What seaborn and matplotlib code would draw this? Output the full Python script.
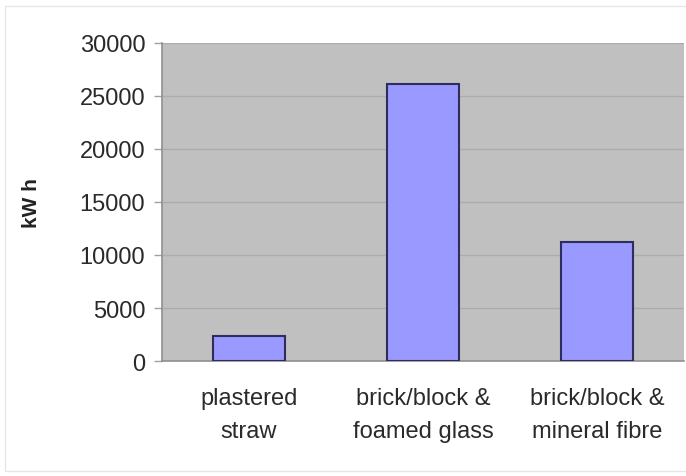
import matplotlib
matplotlib.use("Agg")
import matplotlib.pyplot as plt
import seaborn as sns
import pandas as pd
from matplotlib.patches import Rectangle

categories = ["plastered\nstraw", "brick/block &\nfoamed glass", "brick/block &\nmineral fibre"]
values = [2400, 26100, 11200]
yticks = [0, 5000, 10000, 15000, 20000, 25000, 30000]

sns.set_theme(style="white")
plt.rcParams['font.family'] = ['Liberation Sans', 'DejaVu Sans']

df = pd.DataFrame({"cat": categories, "kwh": values})

fig = plt.figure(figsize=(6.86, 4.77), dpi=100)
ax = fig.add_axes([0.236, 0.241, 0.761, 0.667])
ax.set_facecolor("#c0c0c0")

sns.barplot(data=df, x="cat", y="kwh", ax=ax, color="#9999ff", width=0.41,
            edgecolor="#2e2e5e", linewidth=1.5, saturation=1, zorder=3)

ax.set_ylim(0, 30000)
ax.set_xlim(-0.5, 2.5)
ax.set_yticks(yticks)
ax.set_yticklabels([str(t) for t in yticks], fontsize=17, color="#2a2a2a")
ax.yaxis.grid(True, color="#acacac", linewidth=1)
ax.set_axisbelow(True)
ax.tick_params(axis="y", length=6, color="#a0a0a0", width=1, left=True, pad=6)
ax.tick_params(axis="x", length=0, pad=19, labelsize=17, labelcolor="#2a2a2a")
for s in ["top", "right"]:
    ax.spines[s].set_visible(False)
ax.spines["left"].set_color("#909090")
ax.spines["bottom"].set_color("#909090")
ax.spines["left"].set_linewidth(1.2)
ax.spines["bottom"].set_linewidth(1.2)
ax.set_xlabel("")
ax.set_ylabel("kW h", fontsize=15, fontweight="bold", color="#222222", labelpad=28)
for lbl in ax.get_xticklabels():
    lbl.set_linespacing(1.65)

fig.patches.append(Rectangle((0.008, 0.01), 1.2, 0.975, transform=fig.transFigure,
                             fill=False, edgecolor="#e6e6e6", linewidth=1))

fig.savefig("out.png", dpi=100)
